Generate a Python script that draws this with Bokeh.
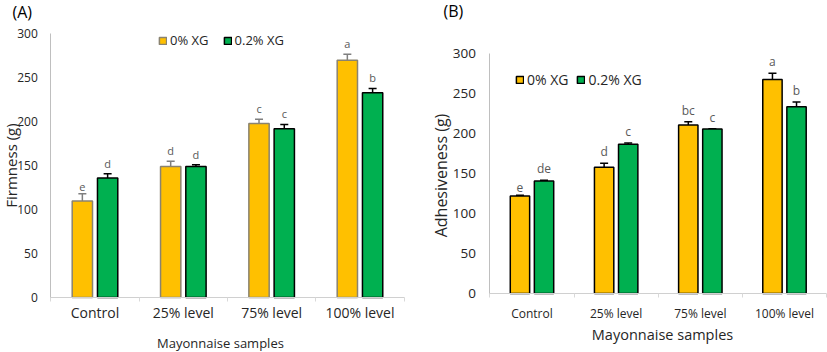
import math
from bokeh.plotting import figure
from bokeh.models import (ColumnDataSource, Range1d, Whisker, TeeHead, Label,
                          Legend, LegendItem, LinearAxis, FixedTicker)
from bokeh.layouts import row
from bokeh.core.properties import value
from bokeh.embed import file_html
from bokeh.resources import INLINE

FONT = "Open Sans"

categories = ["Control", "25% level", "75% level", "100% level"]
series_names = ["0% XG", "0.2% XG"]

firm_0 = [110, 149, 198, 270]
firm_0_err = [8, 6, 5, 7]
firm_02 = [136, 149, 192, 233]
firm_02_err = [5, 2, 5, 5]
firm_0_letters = ["e", "d", "c", "a"]
firm_02_letters = ["d", "d", "c", "b"]

adh_0 = [122, 158, 211, 268]
adh_0_err = [1, 5, 4, 8]
adh_02 = [141, 187, 206, 234]
adh_02_err = [1, 1.5, 0.5, 6]
adh_0_letters = ["e", "d", "bc", "a"]
adh_02_letters = ["de", "c", "c", "b"]

y_ticks = [0, 50, 100, 150, 200, 250, 300]

YELLOW = "#FFC000"
GREEN = "#00B050"
TXT = "#262626"
H = 352


def make_panel(width, x_range, y_range, vals0, err0, let0, vals2, err2, let2,
               title, ylabel, fs, yellow_outline, yellow_err, legend_pos, legend_spacing):
    p = figure(width=width, height=H, x_range=Range1d(*x_range), y_range=Range1d(*y_range),
               output_backend="svg", toolbar_location=None, title=None,
               x_axis_location=None, y_axis_location=None,
               min_border_left=0, min_border_right=0, min_border_top=0,
               min_border_bottom=0)
    p.outline_line_color = None
    p.grid.visible = False

    idx = list(range(len(categories)))
    off = 0.143
    bw = 0.23
    src0 = ColumnDataSource(dict(x=[i - off for i in idx], val=vals0,
                                 up=[v + e for v, e in zip(vals0, err0)], letter=let0))
    src2 = ColumnDataSource(dict(x=[i + off for i in idx], val=vals2,
                                 up=[v + e for v, e in zip(vals2, err2)], letter=let2))
    r0 = p.vbar(x="x", top="val", bottom=0, width=bw, source=src0,
                fill_color=YELLOW, line_color=yellow_outline, line_width=1.5)
    r2 = p.vbar(x="x", top="val", bottom=0, width=bw, source=src2,
                fill_color=GREEN, line_color="black", line_width=1.5)

    for src, col in ((src0, yellow_err), (src2, "black")):
        w = Whisker(base="x", upper="up", lower="val", source=src,
                    line_color=col, line_width=1.5,
                    upper_head=TeeHead(size=8, line_color=col, line_width=1.5),
                    lower_head=None)
        p.add_layout(w)
        p.text(x="x", y="up", text="letter", source=src,
               text_align="center", text_baseline="bottom", y_offset=-3,
               text_font=value(FONT), text_font_size=fs["letter"], text_color="#595959")

    legend = Legend(items=[LegendItem(label=series_names[0], renderers=[r0]),
                           LegendItem(label=series_names[1], renderers=[r2])],
                    location=legend_pos, orientation="horizontal",
                    glyph_width=9, glyph_height=9, label_height=10, label_standoff=3,
                    spacing=legend_spacing, padding=0, margin=0,
                    border_line_color=None, background_fill_alpha=0,
                    label_text_font=FONT, label_text_font_size=fs["legend"],
                    label_text_color=TXT)
    p.add_layout(legend)

    # y axis, placed at the left edge of the first category slot
    ya = LinearAxis(fixed_location=-0.5, ticker=FixedTicker(ticks=y_ticks),
                    bounds=(y_ticks[0], y_ticks[-1]))
    ya.axis_line_color = "#bfbfbf"
    ya.major_tick_line_color = None
    ya.major_tick_out = 0
    ya.major_tick_in = 0
    ya.minor_tick_line_color = None
    ya.minor_tick_out = 0
    ya.minor_tick_in = 0
    ya.major_label_text_font = FONT
    ya.major_label_text_font_size = fs["ytick"]
    ya.major_label_text_color = TXT
    ya.major_label_standoff = fs["ystand"]
    p.add_layout(ya, "left")

    # x axis at y = 0, categories as labels at integer slots
    xa = LinearAxis(fixed_location=0,
                    ticker=FixedTicker(ticks=idx, minor_ticks=[i - 0.5 for i in idx + [len(idx)]]),
                    bounds=(-0.5, len(idx) - 0.5),
                    major_label_overrides={i: c for i, c in zip(idx, categories)})
    xa.axis_line_color = "#d0d0d0"
    xa.major_tick_line_color = None
    xa.major_tick_out = 0
    xa.major_tick_in = 0
    xa.minor_tick_line_color = "#d9d9d9"
    xa.minor_tick_out = 4
    xa.minor_tick_in = 0
    xa.major_label_text_font = FONT
    xa.major_label_text_font_size = fs["xtick"]
    xa.major_label_text_color = TXT
    xa.major_label_standoff = fs["xstand"]
    p.add_layout(xa, "below")

    def lab(text, cx, cy, size, angle=0.0, align="center", color=TXT):
        p.add_layout(Label(x=cx, y=H - cy, x_units="screen", y_units="screen",
                           text=text, angle=angle, text_align=align,
                           text_baseline="middle", text_font=FONT,
                           text_font_size=size, text_color=color))

    lab(title, fs["title_x"], fs["title_y"], "16px", align="left", color="black")
    lab(ylabel, fs["ylab_x"], fs["ylab_y"], fs["ylab"], angle=math.pi / 2)
    lab("Mayonnaise samples", fs["xlab_x"], fs["xlab_y"], fs["xlab"])
    return p


fsA = dict(letter="11px", legend="13px", ytick="12px", ystand=13, xtick="14px", xstand=1,
           title_x=12, title_y=11, ylab_x=10, ylab_y=165, ylab="15px",
           xlab_x=220, xlab_y=342, xlab="13px")
fsB = dict(letter="12px", legend="14px", ytick="13.5px", ystand=14, xtick="12px", xstand=7,
           title_x=33, title_y=10, ylab_x=30, ylab_y=175, ylab="16px",
           xlab_x=252, xlab_y=334, xlab="14.5px")

# ranges chosen so that the frame fills each panel's whole canvas
pA = make_panel(410, (-1.0698, 3.572), (-62.6, 338.1), firm_0, firm_0_err, firm_0_letters,
                firm_02, firm_02_err, firm_02_letters, "(A)", "Firmness (g)",
                fsA, "#8a8370", "#7f7f7f", (158, 303), 14)
pB = make_panel(417, (-1.4435, 3.511), (-73.9, 367.0), adh_0, adh_0_err, adh_0_letters,
                adh_02, adh_02_err, adh_02_letters, "(B)", "Adhesiveness (g)",
                fsB, "black", "black", (105, 263), 8)

layout = row(pA, pB, spacing=0)
open("out.html", "w").write(file_html(layout, INLINE))
